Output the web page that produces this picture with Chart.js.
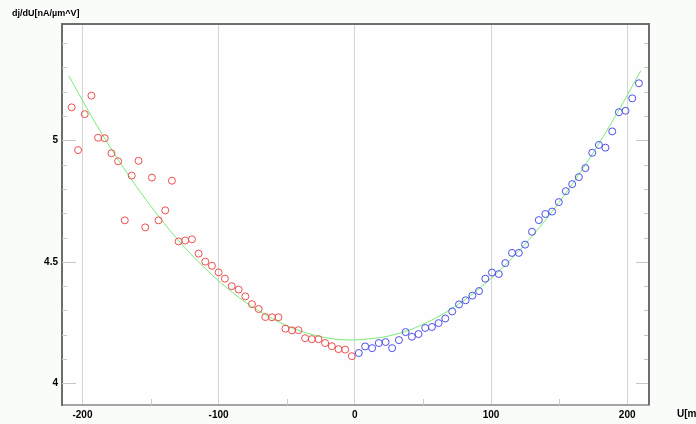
<!DOCTYPE html>
<html>
<head>
<meta charset="utf-8">
<script src="https://cdn.jsdelivr.net/npm/chart.js@4.4.1/dist/chart.umd.min.js"></script>
<style>
  body { margin: 0; background: #fafcfa; }
  canvas { display: block; }
</style>
</head>
<body>
<canvas id="chart" width="696" height="424"></canvas>
<script>
// measured points, U < 0 (red)
const redX = [-207.9, -203.2, -198.3, -193.4, -188.5, -183.6, -178.7, -173.8, -168.9, -163.8,
  -158.8, -153.9, -149.0, -144.1, -139.2, -134.3, -129.4, -124.5, -119.6, -114.7,
  -109.8, -104.9, -100.0, -95.4, -90.4, -85.3, -80.4, -75.5, -70.6, -65.7,
  -60.8, -56.1, -51.0, -46.1, -41.4, -36.5, -31.6, -26.7, -21.8, -16.9,
  -12.0, -7.1, -2.2];
const redY = [5.136, 4.960, 5.108, 5.184, 5.011, 5.009, 4.947, 4.914, 4.671, 4.855,
  4.916, 4.642, 4.847, 4.671, 4.712, 4.834, 4.584, 4.588, 4.593, 4.534,
  4.501, 4.484, 4.457, 4.431, 4.400, 4.386, 4.358, 4.326, 4.306, 4.273,
  4.272, 4.272, 4.225, 4.218, 4.219, 4.186, 4.182, 4.182, 4.166, 4.153,
  4.141, 4.139, 4.112];

// measured points, U > 0 (blue)
const blueX = [2.9, 7.6, 12.7, 17.6, 22.6, 27.4, 32.4, 37.3, 41.9, 46.8,
  51.7, 56.6, 61.5, 66.4, 71.5, 76.5, 81.4, 86.3, 91.2, 95.8,
  100.7, 105.7, 110.5, 115.4, 120.4, 125.0, 130.1, 135.1, 139.9, 144.9,
  149.8, 154.9, 159.6, 164.5, 169.3, 174.3, 179.2, 184.0, 189.0, 193.9,
  198.8, 203.7, 208.6];
const blueY = [4.125, 4.152, 4.145, 4.166, 4.170, 4.145, 4.178, 4.211, 4.192, 4.203,
  4.228, 4.232, 4.248, 4.267, 4.296, 4.325, 4.342, 4.361, 4.380, 4.431,
  4.456, 4.450, 4.495, 4.537, 4.537, 4.571, 4.624, 4.672, 4.697, 4.707,
  4.746, 4.791, 4.820, 4.849, 4.886, 4.949, 4.981, 4.970, 5.037, 5.116,
  5.122, 5.173, 5.235];

// fitted curve (green)
const fitX = [-210, -190, -170, -150, -130, -110, -90, -70, -50, -30, -10,
  10, 30, 50, 70, 90, 110, 130, 150, 170, 190, 210];
const fitY = [5.266, 5.067, 4.889, 4.731, 4.592, 4.474, 4.375, 4.297, 4.238, 4.199, 4.180,
  4.183, 4.202, 4.243, 4.304, 4.384, 4.485, 4.605, 4.746, 4.906, 5.087, 5.287];

const xTicks = [-200, -100, 0, 100, 200];
const xMinorTicks = [-150, -50, 50, 150];
const yTicks = [4, 4.5, 5];
const yMinorTicks = [4.1, 4.2, 4.3, 4.4, 4.6, 4.7, 4.8, 4.9, 5.1, 5.2, 5.3, 5.4];

const toPoints = (xs, ys) => xs.map((x, i) => ({ x: x, y: ys[i] }));
const tickFont = { family: "'Liberation Sans Narrow', 'Liberation Sans', Arial", size: 10, weight: 'bold' };

const framePlugin = {
  id: 'frame',
  beforeDraw(chart) {
    const ctx = chart.ctx;
    const a = chart.chartArea;
    ctx.save();
    ctx.fillStyle = '#fafcfa';
    ctx.fillRect(0, 0, chart.width, chart.height);
    ctx.fillStyle = '#fdfefd';
    ctx.fillRect(a.left, a.top, a.right - a.left, a.bottom - a.top);
    ctx.restore();
  },
  afterDraw(chart) {
    const ctx = chart.ctx;
    const a = chart.chartArea;
    const xs = chart.scales.x, ys = chart.scales.y;
    ctx.save();
    ctx.strokeStyle = '#c8c8c8';
    ctx.lineWidth = 1;
    ctx.beginPath();
    yTicks.forEach(v => {
      const p = Math.round(ys.getPixelForValue(v)) + 0.5;
      ctx.moveTo(a.left, p); ctx.lineTo(a.left + 14, p);
      ctx.moveTo(a.right, p); ctx.lineTo(a.right - 13, p);
    });
    yMinorTicks.forEach(v => {
      const p = Math.round(ys.getPixelForValue(v)) + 0.5;
      ctx.moveTo(a.left, p); ctx.lineTo(a.left + 5, p);
      ctx.moveTo(a.right, p); ctx.lineTo(a.right - 5, p);
    });
    xMinorTicks.forEach(v => {
      const p = Math.round(xs.getPixelForValue(v)) + 0.5;
      ctx.moveTo(p, a.bottom); ctx.lineTo(p, a.bottom - 6);
    });
    ctx.stroke();

    // top and right border
    ctx.strokeStyle = '#6e6e6e';
    ctx.lineWidth = 2;
    ctx.beginPath();
    ctx.moveTo(a.left, a.top);
    ctx.lineTo(a.right, a.top);
    ctx.lineTo(a.right, a.bottom);
    ctx.stroke();

    // axis titles
    ctx.fillStyle = '#000';
    ctx.font = "bold 9px 'Liberation Sans Narrow', 'Liberation Sans', Arial";
    ctx.textBaseline = 'middle';
    ctx.fillText('dj/dU[nA/µm^V]', 12, 14);
    ctx.font = "bold 10px 'Liberation Sans Narrow', 'Liberation Sans', Arial";
    ctx.fillText('U[mV]', 677, 414);
    ctx.restore();
  }
};

new Chart(document.getElementById('chart'), {
  type: 'scatter',
  data: {
    datasets: [
      {
        data: toPoints(redX, redY),
        borderColor: 'rgb(238, 80, 80)',
        backgroundColor: 'rgba(0,0,0,0)',
        borderWidth: 1,
        pointRadius: 3.5
      },
      {
        data: toPoints(blueX, blueY),
        borderColor: 'rgb(80, 80, 235)',
        backgroundColor: 'rgba(0,0,0,0)',
        borderWidth: 1,
        pointRadius: 3.5
      },
      {
        type: 'line',
        data: toPoints(fitX, fitY),
        borderColor: 'rgb(120, 235, 120)',
        borderWidth: 1,
        pointRadius: 0,
        tension: 0.4,
        fill: false
      }
    ]
  },
  options: {
    responsive: false,
    animation: false,
    devicePixelRatio: 1,
    layout: { padding: { left: 0, right: 47, top: 24, bottom: 0 } },
    plugins: { legend: { display: false }, tooltip: { enabled: false } },
    scales: {
      x: {
        type: 'linear',
        min: -215,
        max: 216,
        afterBuildTicks: s => { s.ticks = xTicks.map(v => ({ value: v })); },
        afterFit: s => { s.height = 19; },
        grid: { color: '#d4d4d4', lineWidth: 1, drawTicks: false },
        border: { color: '#a4a4a4', width: 2 },
        ticks: { color: '#000', font: tickFont, padding: 4, maxRotation: 0, callback: v => String(v) }
      },
      y: {
        type: 'linear',
        min: 3.911,
        max: 5.479,
        afterBuildTicks: s => { s.ticks = yTicks.map(v => ({ value: v })); },
        afterFit: s => { s.width = 62; },
        grid: { display: false, drawTicks: false },
        border: { color: '#6e6e6e', width: 2 },
        ticks: { color: '#000', font: tickFont, padding: 4, callback: v => String(v) }
      }
    }
  },
  plugins: [framePlugin]
});
</script>
</body>
</html>
